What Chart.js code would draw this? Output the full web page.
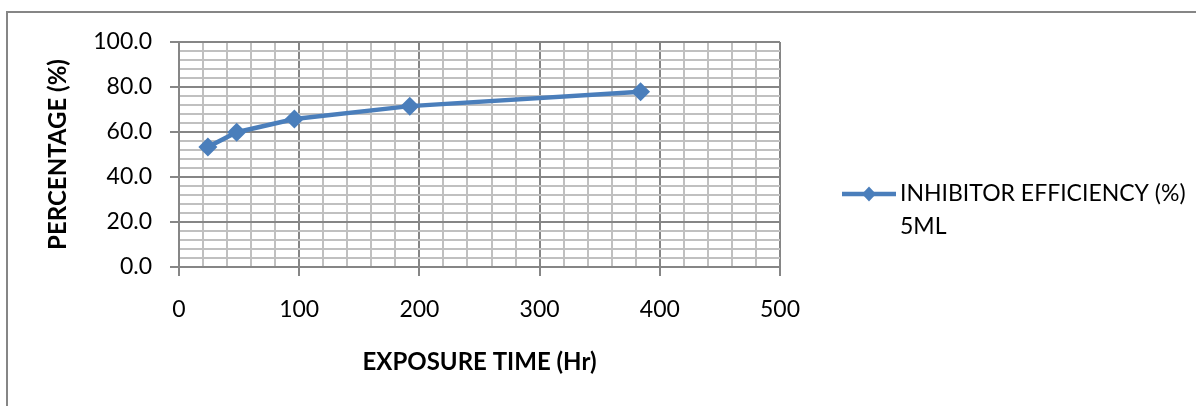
<!DOCTYPE html>
<html>
<head>
<meta charset="utf-8">
<script src="https://cdn.jsdelivr.net/npm/chart.js@4/dist/chart.umd.min.js"></script>
<style>
  html, body { margin: 0; padding: 0; background: #fff; }
  #wrap { width: 1196px; height: 406px; }
</style>
</head>
<body>
<div id="wrap"><canvas id="chart" width="1196" height="406"></canvas></div>
<script>
// exposure time (hours) and inhibitor efficiency (%)
var exposureHours = [24, 48, 96, 192, 384];
var efficiency5ml = [53.3, 59.9, 65.8, 71.5, 77.9];
var seriesName = ['INHIBITOR EFFICIENCY (%)', '5ML'];

var lineColour = '#4a7ebb';
var majorGrid = '#868686';
var minorGrid = '#c0c0c0';
var fontFamily = 'Lato, "Open Sans", sans-serif';

var points = [];
for (var i = 0; i < exposureHours.length; i++) {
	points.push({ x: exposureHours[i], y: efficiency5ml[i] });
}

// outer frame of the chart object (only top and left edges show)
var framePlugin = {
	id: 'frame',
	beforeDraw: function(chart) {
		var ctx = chart.ctx;
		ctx.save();
		ctx.strokeStyle = majorGrid;
		ctx.lineWidth = 2;
		ctx.strokeRect(7, 12, 1400, 600);
		ctx.restore();
	}
};

// legend with wrapped text, drawn to the right of the plot
var legendPlugin = {
	id: 'sideLegend',
	afterDraw: function(chart) {
		var ctx = chart.ctx;
		var y = 194;
		ctx.save();
		ctx.strokeStyle = lineColour;
		ctx.lineWidth = 4.5;
		ctx.beginPath();
		ctx.moveTo(842, y);
		ctx.lineTo(896, y);
		ctx.stroke();
		ctx.fillStyle = lineColour;
		ctx.beginPath();
		ctx.moveTo(869, y - 7.5);
		ctx.lineTo(876, y);
		ctx.lineTo(869, y + 7.5);
		ctx.lineTo(862, y);
		ctx.closePath();
		ctx.fill();
		ctx.fillStyle = '#000';
		ctx.font = '23px ' + fontFamily;
		ctx.textAlign = 'left';
		ctx.textBaseline = 'middle';
		ctx.fillText(seriesName[0], 900, y);
		ctx.fillText(seriesName[1], 900, y + 33);
		ctx.restore();
	}
};

Chart.defaults.color = '#000';
Chart.defaults.font.family = fontFamily;

var config = {
	type: 'scatter',
	data: {
		datasets: [{
			label: seriesName.join(' '),
			data: points,
			showLine: true,
			borderColor: lineColour,
			backgroundColor: lineColour,
			borderWidth: 4.5,
			pointStyle: 'rectRot',
			pointRadius: 9.5,
			pointHoverRadius: 9.5,
			pointBorderWidth: 0
		}]
	},
	options: {
		responsive: false,
		animation: false,
		layout: { padding: { left: 0, top: 42, right: 416, bottom: 0 } },
		plugins: {
			legend: { display: false },
			tooltip: { enabled: false }
		},
		scales: {
			x: {
				type: 'linear',
				min: 0,
				max: 500,
				afterFit: function(scale) { scale.height = 139; },
				border: { color: majorGrid, width: 2 },
				grid: {
					lineWidth: 2,
					tickLength: 9,
					color: function(c) { return c.tick && c.tick.value % 100 === 0 ? majorGrid : minorGrid; },
					tickColor: function(c) { return c.tick && c.tick.value % 100 === 0 ? majorGrid : 'rgba(0,0,0,0)'; }
				},
				ticks: {
					stepSize: 20,
					autoSkip: false,
					maxRotation: 0,
					padding: 20,
					font: { size: 23 },
					callback: function(v) { return v % 100 === 0 ? String(v) : ''; }
				},
				title: {
					display: true,
					text: 'EXPOSURE TIME (Hr)',
					font: { size: 24, weight: 'bold' },
					padding: { top: 0, bottom: 29 }
				}
			},
			y: {
				min: 0,
				max: 100,
				afterFit: function(scale) { scale.width = 179; },
				border: { color: majorGrid, width: 2 },
				grid: {
					lineWidth: 2,
					tickLength: 9,
					color: function(c) { return c.tick && c.tick.value % 20 === 0 ? majorGrid : minorGrid; },
					tickColor: function(c) { return c.tick && c.tick.value % 20 === 0 ? majorGrid : 'rgba(0,0,0,0)'; }
				},
				ticks: {
					stepSize: 4,
					autoSkip: false,
					padding: 18,
					font: { size: 23 },
					callback: function(v) { return v % 20 === 0 ? v.toFixed(1) : ''; }
				},
				title: {
					display: true,
					text: 'PERCENTAGE (%)',
					font: { size: 24, weight: 'bold' },
					padding: { top: 44, bottom: 0 }
				}
			}
		}
	},
	plugins: [framePlugin, legendPlugin]
};

var ctx = document.getElementById('chart').getContext('2d');
window.effChart = new Chart(ctx, config);
</script>
</body>
</html>
